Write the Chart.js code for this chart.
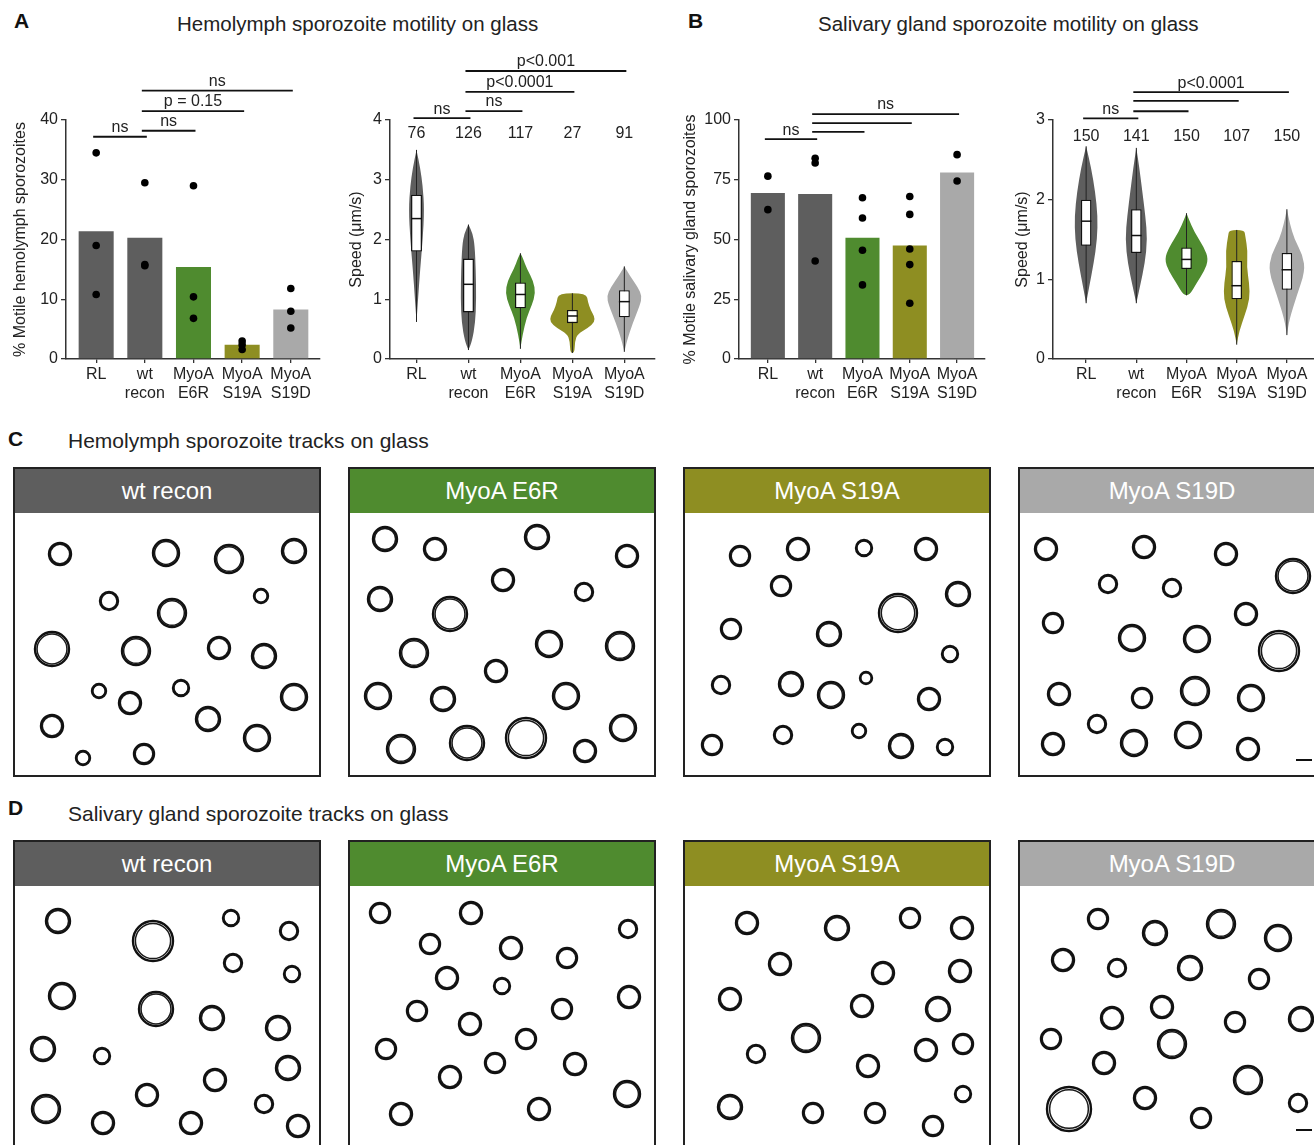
<!DOCTYPE html>
<html>
<head>
<meta charset="utf-8">
<script src="https://cdn.jsdelivr.net/npm/chart.js@4.4.1/dist/chart.umd.min.js"></script>
<style>
  body { margin: 0; background: #fff; font-family: "Liberation Sans", Arial, sans-serif; color: #222; }
  #page { position: relative; width: 1314px; height: 1145px; overflow: hidden; }
  .abs { position: absolute; }
  .letter { font-weight: bold; font-size: 21px; color: #111; }
  .title { font-size: 20.5px; color: #222; white-space: nowrap; }
  .panel { position: absolute; width: 304px; border: 2px solid #222; background: #fff; overflow: hidden; }
  .panel .head { height: 44px; line-height: 44px; text-align: center; color: #fff; font-size: 24px; }
  .panel canvas { display: block; }
  .scalebar { position: absolute; width: 16px; height: 2px; background: #111; }
</style>
</head>
<body>
<div id="page">
  <div class="abs letter" style="left:14px;top:9px">A</div>
  <div class="abs title" style="left:177px;top:12px">Hemolymph sporozoite motility on glass</div>
  <div class="abs letter" style="left:688px;top:9px">B</div>
  <div class="abs title" style="left:818px;top:12px">Salivary gland sporozoite motility on glass</div>

  <canvas id="hemoMotile" class="abs" style="left:0;top:0" width="330" height="410"></canvas>
  <canvas id="hemoSpeed" class="abs" style="left:330px;top:0" width="330" height="410"></canvas>
  <canvas id="sgMotile" class="abs" style="left:670px;top:0" width="330" height="410"></canvas>
  <canvas id="sgSpeed" class="abs" style="left:1000px;top:0" width="314" height="410"></canvas>

  <div class="abs letter" style="left:8px;top:427px">C</div>
  <div class="abs title" style="left:68px;top:429px;font-size:21px">Hemolymph sporozoite tracks on glass</div>
  <div class="abs letter" style="left:8px;top:796px">D</div>
  <div class="abs title" style="left:68px;top:802px;font-size:21px">Salivary gland sporozoite tracks on glass</div>

  <div id="rowC"></div>
  <div id="rowD"></div>
  <div class="scalebar" style="left:1296px;top:759px"></div>
  <div class="scalebar" style="left:1296px;top:1129px"></div>
</div>

<script>
// groups and colours
const groups = ['RL', 'wt recon', 'MyoA E6R', 'MyoA S19A', 'MyoA S19D'];
const tickLabels = [['RL'], ['wt', 'recon'], ['MyoA', 'E6R'], ['MyoA', 'S19A'], ['MyoA', 'S19D']];
const groupColors = ['#5e5e5e', '#5e5e5e', '#4f8b2f', '#8e8e22', '#a9a9a9'];

// A: hemolymph % motile
const hemoMotilePct = [21.4, 20.3, 15.4, 2.4, 8.3];
const hemoMotileReps = [[34.5, 19, 10.8], [29.5, 15.8, 15.6], [29, 10.4, 6.8], [3, 2.4, 1.6], [11.8, 8, 5.2]];
const hemoMotileSig = [[0, 1, 37.2, 'ns'], [1, 2, 38.2, 'ns'], [1, 3, 41.5, 'p = 0.15'], [1, 4, 44.9, 'ns']];

// A: hemolymph speed (min, q1, median, q3, max) + violin outline [speed, half width]
const hemoSpeedN = [76, 126, 117, 27, 91];
const hemoSpeedBox = [[0.62, 1.8, 2.35, 2.75, 3.5], [0.15, 0.78, 1.25, 1.68, 2.25], [0.17, 0.85, 1.08, 1.28, 1.77], [0.1, 0.6, 0.72, 0.82, 1.1], [0.12, 0.7, 0.96, 1.15, 1.55]];
const hemoSpeedViolin = [
  [[0.62, 0], [1.0, 0.03], [1.5, 0.07], [2.0, 0.12], [2.5, 0.15], [2.9, 0.12], [3.2, 0.07], [3.5, 0]],
  [[0.15, 0], [0.3, 0.07], [0.6, 0.13], [1.0, 0.15], [1.5, 0.14], [1.9, 0.12], [2.1, 0.08], [2.25, 0]],
  [[0.17, 0], [0.4, 0.04], [0.7, 0.12], [0.9, 0.22], [1.1, 0.29], [1.3, 0.25], [1.5, 0.13], [1.7, 0.04], [1.77, 0]],
  [[0.1, 0.04], [0.3, 0.05], [0.42, 0.1], [0.52, 0.3], [0.62, 0.43], [0.72, 0.42], [0.82, 0.35], [0.95, 0.3], [1.1, 0.27]],
  [[0.12, 0], [0.3, 0.05], [0.6, 0.16], [0.9, 0.3], [1.05, 0.34], [1.2, 0.26], [1.4, 0.1], [1.55, 0]]
];
const hemoSpeedSig = [[0, 1, 4.03, 'ns'], [1, 2, 4.15, 'ns'], [1, 3, 4.47, 'p<0.0001'], [1, 4, 4.82, 'p<0.001']];

// B: salivary gland % motile
const sgMotilePct = [69.5, 69, 50.7, 47.5, 78];
const sgMotileReps = [[76.5, 62.5], [84, 82, 41], [67.5, 59, 45.5, 31], [68, 60.5, 46, 39.5, 23.3], [85.5, 74.5]];
const sgMotileSig = [[0, 1, 92, 'ns'], [1, 2, 95, ''], [1, 3, 98.7, ''], [1, 4, 102.5, 'ns']];

// B: salivary gland speed
const sgSpeedN = [150, 141, 150, 107, 150];
const sgSpeedBox = [[0.7, 1.42, 1.73, 2.0, 2.67], [0.7, 1.33, 1.55, 1.88, 2.65], [0.8, 1.13, 1.25, 1.4, 1.83], [0.18, 0.75, 0.92, 1.23, 1.62], [0.3, 0.87, 1.12, 1.33, 1.88]];
const sgSpeedViolin = [
  [[0.7, 0], [0.9, 0.06], [1.2, 0.15], [1.5, 0.22], [1.8, 0.23], [2.1, 0.18], [2.4, 0.1], [2.67, 0]],
  [[0.7, 0], [0.9, 0.07], [1.2, 0.17], [1.5, 0.22], [1.8, 0.18], [2.1, 0.12], [2.4, 0.06], [2.65, 0]],
  [[0.8, 0.06], [0.95, 0.2], [1.1, 0.35], [1.25, 0.44], [1.4, 0.35], [1.6, 0.15], [1.75, 0.05], [1.83, 0]],
  [[0.18, 0], [0.35, 0.05], [0.55, 0.16], [0.75, 0.26], [0.95, 0.25], [1.15, 0.2], [1.35, 0.22], [1.55, 0.17], [1.62, 0.15]],
  [[0.3, 0], [0.5, 0.05], [0.8, 0.2], [1.1, 0.36], [1.3, 0.32], [1.5, 0.15], [1.7, 0.06], [1.88, 0]]
];
const sgSpeedSig = [[0, 1, 3.02, 'ns'], [1, 2, 3.11, ''], [1, 3, 3.24, ''], [1, 4, 3.35, 'p<0.0001']];

// C / D: track loops in field units [x, y, loop diameter]
const trackGroups = ['wt recon', 'MyoA E6R', 'MyoA S19A', 'MyoA S19D'];
const trackColors = ['#5e5e5e', '#4f8b2f', '#8e8e22', '#a9a9a9'];
const hemoTracksWt = [[45,41,22],[151,40,26],[214,46,28],[279,38,24],[94,88,18],[157,100,28],[246,83,14],[37,136,34],[121,138,28],[204,135,22],[249,143,24],[84,178,14],[115,190,22],[166,175,16],[279,184,26],[37,213,22],[193,206,24],[242,225,26],[68,245,14],[129,241,20]];
const hemoTracksE6R = [[35,26,24],[85,36,22],[187,24,24],[277,43,22],[153,67,22],[234,79,18],[30,86,24],[100,101,34],[64,140,28],[199,131,26],[270,133,28],[146,158,22],[28,183,26],[93,186,24],[216,183,26],[273,215,26],[51,236,28],[117,230,34],[176,225,40],[235,238,22]];
const hemoTracksS19A = [[55,43,20],[113,36,22],[179,35,16],[241,36,22],[96,73,20],[273,81,24],[213,100,38],[46,116,20],[144,121,24],[265,141,16],[36,172,18],[106,171,24],[146,182,26],[181,165,12],[244,186,22],[27,232,20],[98,222,18],[174,218,14],[216,233,24],[260,234,16]];
const hemoTracksS19D = [[26,36,22],[124,34,22],[206,41,22],[273,63,34],[88,71,18],[152,75,18],[226,101,22],[33,110,20],[112,125,26],[177,126,26],[259,138,40],[39,181,22],[122,185,20],[175,178,28],[231,185,26],[77,211,18],[114,230,26],[168,222,26],[33,231,22],[228,236,22]];
const sgTracksWt = [[43,35,24],[138,55,40],[216,32,16],[274,45,18],[218,77,18],[277,88,16],[47,110,26],[141,123,34],[197,132,24],[263,142,24],[28,163,24],[87,170,16],[273,182,24],[200,194,22],[31,223,28],[88,237,22],[132,209,22],[176,237,22],[249,218,18],[283,240,22]];
const sgTracksE6R = [[30,27,20],[121,27,22],[80,58,20],[161,62,22],[217,72,20],[278,43,18],[97,92,22],[152,100,16],[279,111,22],[67,125,20],[212,123,20],[120,138,22],[36,163,20],[176,153,20],[145,177,20],[225,178,22],[100,191,22],[277,208,26],[51,228,22],[189,223,22]];
const sgTracksS19A = [[62,37,22],[152,42,24],[225,32,20],[277,42,22],[95,78,22],[198,87,22],[275,85,22],[45,113,22],[177,120,22],[253,123,24],[121,152,28],[71,168,18],[241,164,22],[278,158,20],[183,180,22],[45,221,24],[128,227,20],[190,227,20],[278,208,16],[248,240,20]];
const sgTracksS19D = [[78,33,20],[135,47,24],[201,38,28],[258,52,26],[43,74,22],[97,82,18],[170,82,24],[239,93,20],[92,132,22],[142,121,22],[215,136,20],[281,133,24],[31,153,20],[152,158,28],[84,177,22],[228,194,28],[49,223,44],[125,212,22],[181,232,20],[278,217,18]];

Chart.defaults.font.family = "'Liberation Sans', Arial, sans-serif";
Chart.defaults.font.size = 16;
Chart.defaults.color = '#222';

function yAxis(min, max, step, title, width) {
  return {
    min: min, max: max,
    ticks: { stepSize: step, padding: 3, font: { size: 16 } },
    grid: { drawOnChartArea: false, tickLength: 5, color: '#333', lineWidth: 1.3 },
    border: { color: '#333', width: 1.5 },
    title: { display: true, text: title, font: { size: 16 }, padding: { top: 0, bottom: 2 } },
    afterFit: function(s) { s.width = width; }
  };
}
function xAxis(min, max) {
  return {
    type: 'linear', min: min, max: max, offset: false,
    afterBuildTicks: function(s) { s.ticks = groups.map(function(g, i) { return { value: i }; }); },
    ticks: { callback: function(v) { return tickLabels[v]; }, autoSkip: false, maxRotation: 0, padding: 2,
      font: { size: 16, lineHeight: 1.2 } },
    grid: { offset: false, drawOnChartArea: false, tickLength: 4, color: '#333', lineWidth: 1.3 },
    border: { color: '#333', width: 1.5 },
    afterFit: function(s) { s.height = 51; }
  };
}

// significance lines drawn through the chart scales
const sigPlugin = {
  id: 'sig',
  afterDraw: function(chart, args, o) {
    const ctx = chart.ctx, xs = chart.scales.x, ys = chart.scales.y;
    ctx.save();
    ctx.strokeStyle = '#111'; ctx.lineWidth = 1.8;
    ctx.fillStyle = '#222'; ctx.font = "16px 'Liberation Sans', Arial";
    ctx.textAlign = 'center'; ctx.textBaseline = 'bottom';
    o.lines.forEach(function(s) {
      const x1 = xs.getPixelForValue(s[0]) - 3, x2 = xs.getPixelForValue(s[1]) + 2;
      const yy = ys.getPixelForValue(s[2]);
      ctx.beginPath(); ctx.moveTo(x1, yy); ctx.lineTo(x2, yy); ctx.stroke();
      if (s[3]) ctx.fillText(s[3], (x1 + x2) / 2, yy - 1);
    });
    ctx.restore();
  }
};

function smoothClosed(ctx, pts) {
  const n = pts.length;
  const mid = function(a, b) { return [(a[0] + b[0]) / 2, (a[1] + b[1]) / 2]; };
  const start = mid(pts[n - 1], pts[0]);
  ctx.moveTo(start[0], start[1]);
  for (let k = 0; k < n; k++) {
    const m = mid(pts[k], pts[(k + 1) % n]);
    ctx.quadraticCurveTo(pts[k][0], pts[k][1], m[0], m[1]);
  }
  ctx.closePath();
}

const violinPlugin = {
  id: 'violins',
  beforeDatasetsDraw: function(chart, args, o) {
    const ctx = chart.ctx, xs = chart.scales.x, ys = chart.scales.y;
    o.shapes.forEach(function(prof, i) {
      const right = prof.map(function(p) { return [xs.getPixelForValue(i + p[1]), ys.getPixelForValue(p[0])]; });
      const left = prof.slice().reverse().map(function(p) { return [xs.getPixelForValue(i - p[1]), ys.getPixelForValue(p[0])]; });
      ctx.save();
      ctx.beginPath();
      smoothClosed(ctx, right.concat(left));
      ctx.fillStyle = groupColors[i];
      ctx.fill();
      const b = o.box[i];
      ctx.beginPath();
      ctx.moveTo(xs.getPixelForValue(i), ys.getPixelForValue(b[0]));
      ctx.lineTo(xs.getPixelForValue(i), ys.getPixelForValue(b[4]));
      ctx.strokeStyle = '#222'; ctx.lineWidth = 1;
      ctx.stroke();
      ctx.restore();
    });
  },
  afterDatasetsDraw: function(chart, args, o) {
    const ctx = chart.ctx, xs = chart.scales.x, ys = chart.scales.y;
    const bars = chart.getDatasetMeta(0).data;
    ctx.save();
    ctx.strokeStyle = '#111'; ctx.lineWidth = 1.5;
    o.box.forEach(function(b, i) {
      const yy = ys.getPixelForValue(b[2]);
      ctx.beginPath();
      ctx.moveTo(bars[i].x - bars[i].width / 2, yy);
      ctx.lineTo(bars[i].x + bars[i].width / 2, yy);
      ctx.stroke();
    });
    ctx.fillStyle = '#222'; ctx.font = "16px 'Liberation Sans', Arial";
    ctx.textAlign = 'center'; ctx.textBaseline = 'middle';
    o.n.forEach(function(v, i) { ctx.fillText(String(v), xs.getPixelForValue(i), ys.getPixelForValue(o.nAt)); });
    ctx.restore();
  }
};

function motileChart(id, pct, reps, sig, yMax, yStep, title, yWidth, padLeft, padRight, xMin, xMax) {
  const dots = [];
  reps.forEach(function(r, i) { r.forEach(function(v) { dots.push({ x: i, y: v }); }); });
  return new Chart(document.getElementById(id), {
    type: 'bar',
    data: {
      datasets: [
        { type: 'scatter', data: dots, pointRadius: 3.8, pointBackgroundColor: '#000', pointBorderWidth: 0, order: 0 },
        { type: 'bar', data: pct.map(function(v, i) { return { x: i, y: v }; }), backgroundColor: groupColors,
          categoryPercentage: 0.72, barPercentage: 1, order: 1 }
      ]
    },
    options: {
      responsive: false, animation: false, devicePixelRatio: 1,
      layout: { padding: { left: padLeft, right: padRight, top: 120, bottom: 0 } },
      plugins: { legend: { display: false }, tooltip: { enabled: false }, sig: { lines: sig } },
      scales: { x: xAxis(xMin, xMax), y: yAxis(0, yMax, yStep, title, yWidth) }
    },
    plugins: [sigPlugin]
  });
}

function speedChart(id, box, shapes, n, nAt, sig, yMax, yWidth, padLeft, padRight, xMin, xMax) {
  return new Chart(document.getElementById(id), {
    type: 'bar',
    data: {
      datasets: [
        { data: box.map(function(b, i) { return { x: i, y: [b[1], b[3]] }; }), backgroundColor: '#fff',
          borderColor: '#111', borderWidth: 1.3, borderSkipped: false, categoryPercentage: 0.21, barPercentage: 1 }
      ]
    },
    options: {
      responsive: false, animation: false, devicePixelRatio: 1,
      layout: { padding: { left: padLeft, right: padRight, top: 120, bottom: 0 } },
      plugins: { legend: { display: false }, tooltip: { enabled: false },
        sig: { lines: sig }, violins: { shapes: shapes, box: box, n: n, nAt: nAt } },
      scales: { x: xAxis(xMin, xMax), y: yAxis(0, yMax, 1, 'Speed (μm/s)', yWidth) }
    },
    plugins: [violinPlugin, sigPlugin]
  });
}

motileChart('hemoMotile', hemoMotilePct, hemoMotileReps, hemoMotileSig, 40, 10,
  '% Motile hemolymph sporozoites', 55, 11, 10, -0.62, 4.6);
speedChart('hemoSpeed', hemoSpeedBox, hemoSpeedViolin, hemoSpeedN, 3.78, hemoSpeedSig, 4, 43, 17, 5, -0.51, 4.59);
motileChart('sgMotile', sgMotilePct, sgMotileReps, sgMotileSig, 100, 25,
  '% Motile salivary gland sporozoites', 58, 11, 15, -0.61, 4.59);
speedChart('sgSpeed', sgSpeedBox, sgSpeedViolin, sgSpeedN, 2.79, sgSpeedSig, 3, 40, 13, 0, -0.66, 4.54);

// track panels
function loopRadius(scale) {
  return function(ctx) {
    const s = ctx.chart.scales.x;
    return ctx.raw ? Math.abs(s.getPixelForValue(ctx.raw.d) - s.getPixelForValue(0)) / 2 * scale : 3;
  };
}
function trackPanel(row, left, top, height, name, color, tracks) {
  const p = document.createElement('div');
  p.className = 'panel';
  p.style.left = left + 'px'; p.style.top = top + 'px'; p.style.height = height + 'px';
  const h = document.createElement('div');
  h.className = 'head'; h.style.background = color; h.textContent = name;
  const c = document.createElement('canvas');
  c.width = 304; c.height = height - 44;
  p.appendChild(h); p.appendChild(c);
  document.getElementById(row).appendChild(p);
  const pts = tracks.map(function(t) { return { x: t[0], y: t[1], d: t[2] }; });
  new Chart(c, {
    type: 'scatter',
    data: { datasets: [
      { data: pts, backgroundColor: 'rgba(0,0,0,0)', borderColor: '#111', borderWidth: 2.4, radius: loopRadius(1) },
      { data: pts, backgroundColor: 'rgba(0,0,0,0)', borderColor: '#1a1a1a', borderWidth: 1.5, radius: loopRadius(0.88) }
    ] },
    options: {
      responsive: false, animation: false, devicePixelRatio: 1,
      layout: { padding: 0 },
      plugins: { legend: { display: false }, tooltip: { enabled: false } },
      scales: {
        x: { display: false, min: 0, max: 304 },
        y: { display: false, min: 0, max: height - 44, reverse: true }
      }
    }
  });
}

const hemoTracks = [hemoTracksWt, hemoTracksE6R, hemoTracksS19A, hemoTracksS19D];
const sgTracks = [sgTracksWt, sgTracksE6R, sgTracksS19A, sgTracksS19D];
const panelLefts = [13, 348, 683, 1018];
trackGroups.forEach(function(g, i) {
  trackPanel('rowC', panelLefts[i], 467, 306, g, trackColors[i], hemoTracks[i]);
  trackPanel('rowD', panelLefts[i], 840, 320, g, trackColors[i], sgTracks[i]);
});
</script>
</body>
</html>
